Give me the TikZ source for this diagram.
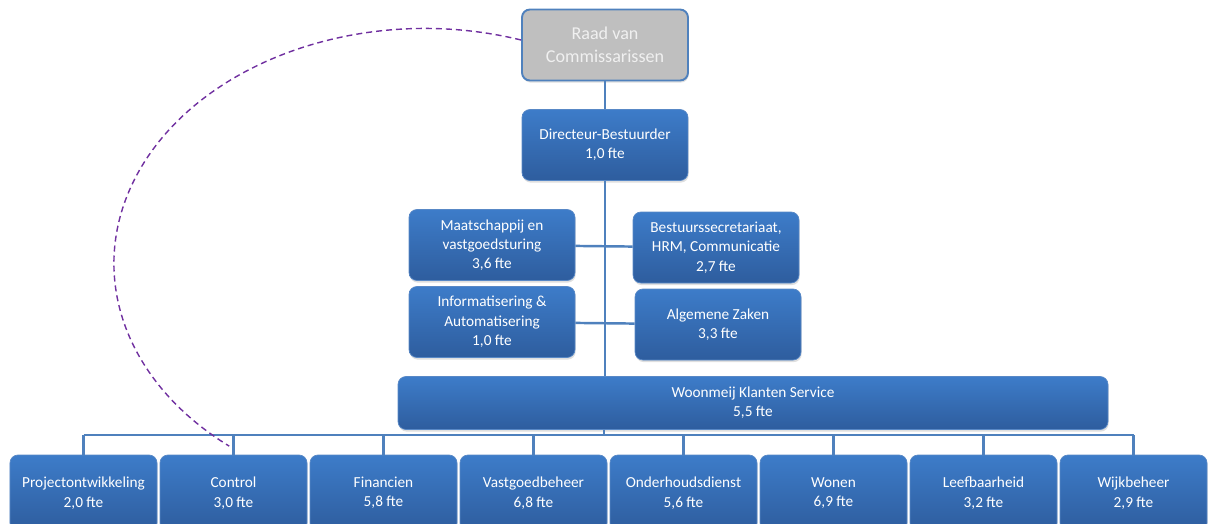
\documentclass[tikz,border=0pt]{standalone}
\usepackage{fontspec}
\setmainfont{Carlito}
\usepackage{tikz}
\usetikzlibrary{positioning,shadows}
\definecolor{orgblue}{RGB}{61,124,201}
\definecolor{orgdark}{RGB}{46,93,158}
\definecolor{orgedge}{RGB}{88,136,198}
\definecolor{orgline}{RGB}{79,129,189}
\definecolor{orggrey}{RGB}{191,191,191}
\definecolor{orgpurple}{RGB}{112,48,160}
\tikzstyle{unit} = [rectangle, rounded corners=0.16cm, minimum width=3.32cm, minimum height=1.42cm, text centered, align=center, draw=orgedge, top color=orgblue, bottom color=orgdark, text=white, font=\fontsize{8.7}{11}\selectfont, drop shadow={opacity=0.25, shadow xshift=0.4pt, shadow yshift=-1.2pt}]
\tikzstyle{board} = [unit, top color=orggrey, bottom color=orggrey, draw=orgline, line width=1.1pt, text=white!94!black, font=\fontsize{10.3}{12.8}\selectfont]
\tikzstyle{team} = [unit, minimum width=2.94cm, minimum height=1.52cm]
\tikzstyle{conn} = [line width=1.4pt, color=orgline]
\tikzstyle{dotline} = [dash pattern=on 0.12cm off 0.08cm, line width=0.8pt, color=orgpurple]

\begin{document}
\begin{tikzpicture}[node distance=2cm]
\useasboundingbox (0,0) rectangle (24.16,-10.48);
% Top of the organisation
\node (raad) [board] at (12.10,-0.90) {Raad van\\Commissarissen};
\node (dir) [unit, below of=raad] {Directeur-Bestuurder\\1,0 fte};

% Staff departments
\node (maat) [unit, below of=dir, xshift=-2.26cm] {Maatschappij en\\vastgoedsturing\\3,6 fte};
\node (best) [unit, below of=dir, xshift=2.22cm, yshift=-0.05cm] {Bestuurssecretariaat,\\HRM, Communicatie\\2,7 fte};
\node (info) [unit, below of=maat, yshift=0.46cm] {Informatisering \&\\Automatisering\\1,0 fte};
\node (alg) [unit, below of=best, yshift=0.46cm, xshift=0.04cm] {Algemene Zaken\\3,3 fte};

% Klanten Service
\node (woon) [unit, minimum width=14.2cm, minimum height=1.06cm] at (15.06,-8.06) {Woonmeij Klanten Service\\5,5 fte};

% Teams
\node (proj) [team] at (1.67,-9.86) {Projectontwikkeling\\2,0 fte};
\node (ctrl) [team, right of=proj, xshift=1cm] {Control\\3,0 fte};
\node (fin) [team, right of=ctrl, xshift=1cm] {Financien\\5,8 fte};
\node (vast) [team, right of=fin, xshift=1cm] {Vastgoedbeheer\\6,8 fte};
\node (ond) [team, right of=vast, xshift=1cm] {Onderhoudsdienst\\5,6 fte};
\node (won) [team, right of=ond, xshift=1cm] {Wonen\\6,9 fte};
\node (leef) [team, right of=won, xshift=1cm] {Leefbaarheid\\3,2 fte};
\node (wijk) [team, right of=leef, xshift=1cm] {Wijkbeheer\\2,9 fte};

% Lines
\coordinate (bus) at (12.08,-8.70);
\draw[conn] (raad) -- (dir);
\draw[conn] (dir.south) -- (dir.south |- woon.north);
\draw[conn] (maat) -- (best);
\draw[conn] (info) -- (alg);
\draw[conn] (woon.south -| bus) -- (bus);
\draw[conn] (proj.north |- bus) -- (wijk.north |- bus);
\draw[conn] (proj.north) -- (proj.north |- bus);
\draw[conn] (ctrl.north) -- (ctrl.north |- bus);
\draw[conn] (fin.north) -- (fin.north |- bus);
\draw[conn] (vast.north) -- (vast.north |- bus);
\draw[conn] (ond.north) -- (ond.north |- bus);
\draw[conn] (won.north) -- (won.north |- bus);
\draw[conn] (leef.north) -- (leef.north |- bus);
\draw[conn] (wijk.north) -- (wijk.north |- bus);

% Dashed line from the board
\draw[dotline] ([yshift=0.1cm]raad.west) arc[start angle=72, end angle=231, x radius=6.22cm, y radius=4.7cm];
\end{tikzpicture}
\end{document}
